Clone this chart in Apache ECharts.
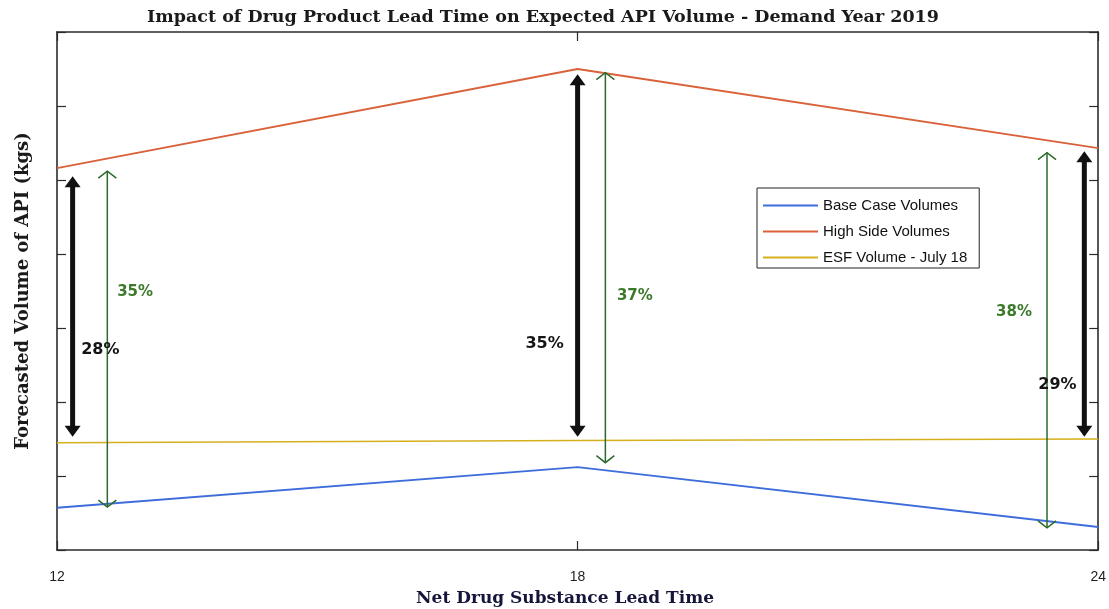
<!DOCTYPE html>
<html>
<head>
<meta charset="utf-8">
<title>Impact of Drug Product Lead Time on Expected API Volume</title>
<script src="https://cdn.jsdelivr.net/npm/echarts@6/dist/echarts.min.js"></script>
<style>
  html, body { margin: 0; padding: 0; background: #fff; }
  #chart { width: 1109px; height: 609px; }
</style>
</head>
<body>
<div id="chart"></div>
<script>
// Net drug substance lead time (x) and forecast volumes (axis units, no labels shown)
const leadTimes = [12, 18, 24];
const baseCase = [0.57, 1.12, 0.31];
const highSide = [5.16, 6.50, 5.43];
const esfVolume = [1.45, 1.48, 1.50];

// Gap arrows: high side down to ESF volume
const gapX = [12.18, 18.0, 23.84];
const gapFrom = [5.05, 6.43, 5.39];
const gapTo = [1.53, 1.53, 1.53];
const gapLabels = ['28%', '35%', '29%'];
const gapLabelX = [12.50, 17.62, 23.53];
const gapLabelY = [2.71, 2.78, 2.23];

// Spread arrows: high side down to base case
const spreadX = [12.58, 18.32, 23.41];
const spreadFrom = [5.12, 6.45, 5.37];
const spreadTo = [0.58, 1.18, 0.30];
const spreadLabels = ['35%', '37%', '38%'];
const spreadLabelX = [12.90, 18.66, 23.03];
const spreadLabelY = [3.48, 3.43, 3.21];

const chartTitle = 'Impact of Drug Product Lead Time on Expected API Volume - Demand Year 2019';
const xTitle = 'Net Drug Substance Lead Time';
const yTitle = 'Forecasted Volume of API (kgs)';

const AXIS = '#2b2b2b';
const GREEN = '#2c6a2c';

function pairs(xs, ys) { return xs.map((x, i) => [x, ys[i]]); }
function arrowRows(xs, from, to, lx, ly) {
  return xs.map((x, i) => [x, from[i], to[i], lx[i], ly[i]]);
}

function arrowRenderer(kind, labels) {
  return function (params, api) {
    const i = params.dataIndex;
    const a = api.coord([api.value(0), api.value(1)]);
    const b = api.coord([api.value(0), api.value(2)]);
    const t = api.coord([api.value(3), api.value(4)]);
    const x = a[0];
    const top = Math.min(a[1], b[1]);
    const bot = Math.max(a[1], b[1]);
    const children = [];
    if (kind === 'gap') {
      const hl = 11, hw = 8;
      children.push({ type: 'line', shape: { x1: x, y1: top + hl - 2, x2: x, y2: bot - hl + 2 },
        style: { stroke: '#111', lineWidth: 5 } });
      children.push({ type: 'polygon', shape: { points: [[x, top], [x - hw, top + hl], [x + hw, top + hl]] },
        style: { fill: '#111' } });
      children.push({ type: 'polygon', shape: { points: [[x, bot], [x - hw, bot - hl], [x + hw, bot - hl]] },
        style: { fill: '#111' } });
      children.push({ type: 'text', style: { text: labels[i], x: t[0], y: t[1], align: 'center',
        verticalAlign: 'middle', font: 'bold 16px "DejaVu Sans"', fill: '#151515' } });
    } else {
      const hl = 7, hw = 9;
      children.push({ type: 'line', shape: { x1: x, y1: top, x2: x, y2: bot },
        style: { stroke: GREEN, lineWidth: 1.5 } });
      children.push({ type: 'polyline', shape: { points: [[x - hw, top + hl], [x, top], [x + hw, top + hl]] },
        style: { stroke: GREEN, lineWidth: 1.5, fill: null } });
      children.push({ type: 'polyline', shape: { points: [[x - hw, bot - hl], [x, bot], [x + hw, bot - hl]] },
        style: { stroke: GREEN, lineWidth: 1.5, fill: null } });
      children.push({ type: 'text', style: { text: labels[i], x: t[0], y: t[1], align: 'center',
        verticalAlign: 'middle', font: 'bold 15px "DejaVu Sans"', fill: '#3b7a2a' } });
    }
    return { type: 'group', children: children };
  };
}

const chart = echarts.init(document.getElementById('chart'), null, { renderer: 'canvas' });

const hiddenLabel = { show: false };
const innerTick = { show: true, inside: true, length: 9, lineStyle: { color: AXIS, width: 1.2 } };
const boxLine = { show: true, onZero: false, lineStyle: { color: AXIS, width: 1.6 } };

chart.setOption({
  animation: false,
  backgroundColor: '#ffffff',
  graphic: [
    {
      type: 'text', x: 543, y: 17, silent: true,
      style: { text: chartTitle, align: 'center', verticalAlign: 'middle',
        font: 'bold 17.5px "DejaVu Serif"', fill: '#1a1a1a' }
    },
    {
      type: 'text', x: 565, y: 599, silent: true,
      style: { text: xTitle, align: 'center', verticalAlign: 'middle',
        font: 'bold 17px "DejaVu Serif"', fill: '#15153a' }
    }
  ],
  grid: { left: 57, right: 10, top: 32, bottom: 59, containLabel: false },
  legend: {
    orient: 'vertical',
    left: 757,
    top: 188,
    padding: [9, 12, 2, 6],
    itemGap: 9,
    itemWidth: 55,
    itemHeight: 2,
    icon: 'rect',
    itemTextGap: 3,
    textStyle: { fontFamily: 'Liberation Sans', fontSize: 15, color: '#111', lineHeight: 17 },
    borderColor: '#222',
    borderWidth: 1,
    backgroundColor: '#fff',
    data: ['Base Case Volumes', 'High Side Volumes', 'ESF Volume - July 18']
  },
  xAxis: [
    {
      type: 'value', min: 12, max: 24, interval: 6, position: 'bottom',
      axisLine: boxLine, axisTick: innerTick, splitLine: { show: false },
      axisLabel: { margin: 20, fontFamily: 'Liberation Sans', fontSize: 14, color: '#1e1e1e' }
    },
    {
      type: 'value', min: 12, max: 24, interval: 6, position: 'top',
      axisLine: boxLine, axisTick: innerTick, axisLabel: hiddenLabel, splitLine: { show: false }
    }
  ],
  yAxis: [
    {
      type: 'value', min: 0, max: 7, interval: 1, position: 'left',
      axisLine: boxLine, axisTick: innerTick, axisLabel: hiddenLabel, splitLine: { show: false },
      name: yTitle, nameLocation: 'middle', nameGap: 25,
      nameTextStyle: { fontFamily: 'DejaVu Serif', fontWeight: 'bold', fontSize: 18, color: '#1a1a1a' }
    },
    {
      type: 'value', min: 0, max: 7, interval: 1, position: 'right',
      axisLine: boxLine, axisTick: innerTick, axisLabel: hiddenLabel, splitLine: { show: false }
    }
  ],
  series: [
    {
      name: 'Base Case Volumes', type: 'line', symbol: 'none',
      data: pairs(leadTimes, baseCase),
      lineStyle: { color: '#3e6ddb', width: 1.9 }, itemStyle: { color: '#3e6ddb' }
    },
    {
      name: 'High Side Volumes', type: 'line', symbol: 'none',
      data: pairs(leadTimes, highSide),
      lineStyle: { color: '#d9623a', width: 1.9 }, itemStyle: { color: '#d9623a' }
    },
    {
      name: 'ESF Volume - July 18', type: 'line', symbol: 'none',
      data: pairs(leadTimes, esfVolume),
      lineStyle: { color: '#d6b01c', width: 1.5 }, itemStyle: { color: '#d6b01c' }
    },
    {
      name: 'gap', type: 'custom', silent: true, clip: false, z: 5,
      renderItem: arrowRenderer('gap', gapLabels),
      encode: { x: [0, 3], y: [1, 2, 4] },
      data: arrowRows(gapX, gapFrom, gapTo, gapLabelX, gapLabelY)
    },
    {
      name: 'spread', type: 'custom', silent: true, clip: false, z: 4,
      renderItem: arrowRenderer('spread', spreadLabels),
      encode: { x: [0, 3], y: [1, 2, 4] },
      data: arrowRows(spreadX, spreadFrom, spreadTo, spreadLabelX, spreadLabelY)
    }
  ]
});
</script>
</body>
</html>
